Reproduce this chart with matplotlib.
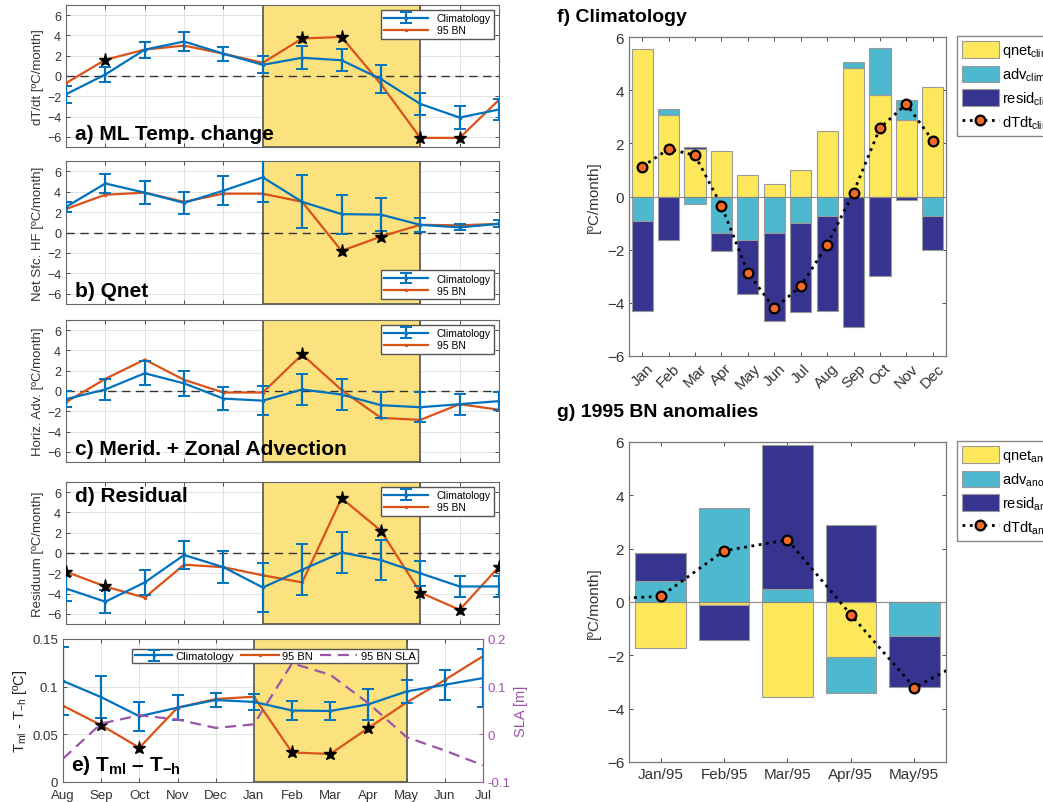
import matplotlib
matplotlib.use("Agg")
import matplotlib.pyplot as plt
import numpy as np

plt.rcParams['font.family'] = ['Liberation Sans', 'DejaVu Sans']
plt.rcParams['mathtext.fontset'] = 'custom'
plt.rcParams['mathtext.rm'] = 'Liberation Sans'
plt.rcParams['mathtext.it'] = 'Liberation Sans:italic'
plt.rcParams['mathtext.bf'] = 'Liberation Sans:bold'

# ---- monthly series, Aug -> Jul ----
months = ['Aug', 'Sep', 'Oct', 'Nov', 'Dec', 'Jan', 'Feb', 'Mar', 'Apr', 'May', 'Jun', 'Jul']

a_clim = [-1.8, 0.15, 2.6, 3.4, 2.2, 1.1, 1.8, 1.55, -0.3, -2.75, -4.1, -3.3]
a_err = [0.85, 0.7, 0.8, 0.9, 0.7, 0.85, 1.15, 1.1, 1.35, 1.1, 1.1, 1.05]
a_bn = [-0.7, 1.6, 2.6, 3.0, 2.2, 1.3, 3.7, 3.85, -0.8, -6.1, -6.1, -2.35]
a_star = [1, 6, 7, 9, 10]

b_clim = [2.5, 4.8, 3.9, 2.9, 4.1, 5.4, 3.0, 1.8, 1.75, 0.75, 0.5, 0.85]
b_err = [0.45, 0.95, 1.15, 1.1, 1.45, 2.4, 2.6, 1.9, 1.6, 0.7, 0.3, 0.35]
b_bn = [2.3, 3.7, 3.9, 3.0, 3.8, 3.8, 3.0, -1.8, -0.4, 0.75, 0.7, 0.85]
b_star = [7, 8]

c_clim = [-0.8, 0.15, 1.75, 0.75, -0.75, -0.95, 0.15, -0.35, -1.4, -1.6, -1.3, -1.0]
c_err = [0.8, 1.0, 1.2, 1.2, 1.1, 1.45, 1.55, 1.5, 1.3, 1.5, 1.05, 0.9]
c_bn = [-1.1, 1.2, 3.1, 1.1, -0.15, -0.15, 3.6, 0.1, -2.65, -2.85, -1.3, -1.85]
c_star = [6]

d_clim = [-3.5, -4.8, -2.9, -0.2, -1.4, -3.4, -1.65, 0.05, -0.7, -2.0, -3.3, -3.3]
d_err = [1.2, 1.15, 1.2, 1.35, 1.6, 2.45, 2.5, 2.05, 2.0, 1.25, 1.0, 1.0]
d_bn = [-1.85, -3.3, -4.4, -1.15, -1.4, -2.2, -2.9, 5.4, 2.2, -3.9, -5.6, -1.35]
d_star = [0, 1, 7, 8, 9, 10, 11]

e_clim = [0.106, 0.089, 0.069, 0.078, 0.086, 0.084, 0.075, 0.0745, 0.0815, 0.095, 0.102, 0.109]
e_err = [0.036, 0.022, 0.015, 0.013, 0.007, 0.0085, 0.0095, 0.009, 0.016, 0.012, 0.0155, 0.03]
e_bn = [0.08, 0.0596, 0.036, 0.078, 0.087, 0.0895, 0.031, 0.0294, 0.0567, 0.0835, 0.107, 0.132]
e_star = [1, 2, 6, 7, 8]
e_sla = [-0.051, 0.0225, 0.040, 0.031, 0.0134, 0.021, 0.149, 0.125, 0.065, -0.006, -0.034, -0.065]

# ---- heat budget bars ----
clim_months = ['Jan', 'Feb', 'Mar', 'Apr', 'May', 'Jun', 'Jul', 'Aug', 'Sep', 'Oct', 'Nov', 'Dec']
clim_qnet = [5.53, 3.07, 1.79, 1.70, 0.80, 0.48, 0.98, 2.48, 4.85, 3.80, 2.88, 4.12]
clim_adv = [-0.93, 0.22, -0.29, -1.38, -1.63, -1.38, -0.98, -0.73, 0.20, 1.77, 0.74, -0.73]
clim_resid = [-3.38, -1.63, 0.07, -0.66, -2.02, -3.32, -3.38, -3.57, -4.90, -2.98, -0.14, -1.29]
clim_dtdt = [1.12, 1.79, 1.55, -0.35, -2.86, -4.21, -3.38, -1.82, 0.15, 2.58, 3.48, 2.10]

anom_months = ['Jan/95', 'Feb/95', 'Mar/95', 'Apr/95', 'May/95']
anom_qnet = [-1.71, -0.13, -3.55, -2.08, 0.0]
anom_adv = [0.80, 3.53, 0.49, -1.32, -1.29]
anom_resid = [1.05, -1.31, 5.41, 2.90, -1.91]
# Dec/94 ... Jun/95
anom_dtdt = [0.10, 0.21, 1.92, 2.33, -0.48, -3.21, -1.95]

BLUE = '#0072BD'
ORANGE = '#D95319'
PURPLE = '#9B55A8'
SHADE = '#FBE27E'
C_QNET = '#FDE85C'
C_ADV = '#4DB8CE'
C_RESID = '#37348F'
SPINE = '#666666'

W, H = 1043, 803
fig = plt.figure(figsize=(W / 100, H / 100), dpi=100)


def px_axes(l, t, r, b):
    return fig.add_axes([l / W, 1 - b / H, (r - l) / W, (b - t) / H])


def style(ax):
    ax.tick_params(direction='in', top=True, right=True, length=3, width=0.6,
                   colors='#333333', labelsize=9)
    for s in ax.spines.values():
        s.set_color(SPINE)
        s.set_linewidth(0.8)


x = np.arange(12)


def line_panel(ax, clim, err, bn, stars, ylabel, label, label_y, label_va, leg_loc):
    ax.axvspan(5, 9, facecolor=SHADE, edgecolor='#555555', lw=1.2, zorder=1)
    ax.axhline(0, color='#333333', lw=1, ls=(0, (6, 4)), zorder=2)
    h1 = ax.errorbar(x, clim, yerr=err, color=BLUE, lw=1.6, capsize=4.5, capthick=1.4,
                     marker='.', ms=3, zorder=4, label='Climatology')
    h2, = ax.plot(x, bn, color=ORANGE, lw=1.6, marker='.', ms=3, zorder=3, label='95 BN')
    ax.plot(np.array(stars), np.array(bn)[stars], ls='none', marker='*', ms=9.5,
            color='black', zorder=5)
    ax.set_xlim(0, 11)
    ax.set_ylim(-7, 7)
    ax.set_yticks([-6, -4, -2, 0, 2, 4, 6])
    ax.set_xticks(x)
    ax.tick_params(labelbottom=False)
    ax.grid(True, color='#E3E3E3', lw=0.7)
    ax.set_axisbelow(True)
    style(ax)
    ax.set_ylabel(ylabel, fontsize=9.5, color='#333333', labelpad=2)
    ax.text(0.02, label_y, label, transform=ax.transAxes, fontsize=15,
            fontweight='bold', va=label_va, ha='left', zorder=6)
    ax.legend(handles=[h1, h2], loc=leg_loc, fontsize=7.5, frameon=True,
              fancybox=False, edgecolor='#555555', framealpha=1,
              handlelength=4.2, borderpad=0.3, labelspacing=0.2)


ax_a = px_axes(66, 6, 499, 148)
line_panel(ax_a, a_clim, a_err, a_bn, a_star, 'dT/dt [ºC/month]',
           'a) ML Temp. change', 0.03, 'bottom', 'upper right')
ax_b = px_axes(66, 162, 499, 305)
line_panel(ax_b, b_clim, b_err, b_bn, b_star, 'Net Sfc. HF [ºC/month]',
           'b) Qnet', 0.03, 'bottom', 'lower right')
ax_c = px_axes(66, 321, 499, 463)
line_panel(ax_c, c_clim, c_err, c_bn, c_star, 'Horiz. Adv. [ºC/month]',
           'c) Merid. + Zonal Advection', 0.03, 'bottom', 'upper right')
ax_d = px_axes(66, 483, 499, 625)
line_panel(ax_d, d_clim, d_err, d_bn, d_star, 'Residuum [ºC/month]',
           'd) Residual', 0.97, 'top', 'upper right')

# ---- e) mixed layer minus sub-layer temperature, with SLA ----
ax_e = px_axes(63, 640, 483, 783)
ax_e.axvspan(5, 9, facecolor=SHADE, edgecolor='#555555', lw=1.2, zorder=1)
he1 = ax_e.errorbar(x, e_clim, yerr=e_err, color=BLUE, lw=1.6, capsize=4.5, capthick=1.4,
                    marker='.', ms=3, zorder=4, label='Climatology')
he2, = ax_e.plot(x, e_bn, color=ORANGE, lw=1.6, marker='.', ms=3, zorder=3, label='95 BN')
ax_e.plot(np.array(e_star), np.array(e_bn)[e_star], ls='none', marker='*', ms=9.5,
          color='black', zorder=5)
ax_e.set_xlim(0, 11)
ax_e.set_ylim(0, 0.15)
ax_e.set_yticks([0, 0.05, 0.1, 0.15])
ax_e.set_yticklabels(['0', '0.05', '0.1', '0.15'])
ax_e.set_xticks(x)
ax_e.set_xticklabels(months)
ax_e.grid(True, color='#E3E3E3', lw=0.7)
ax_e.set_axisbelow(True)
style(ax_e)
ax_e.tick_params(right=False, labelsize=9.5)
ax_e.tick_params(axis='x', pad=5)
ax_e.set_ylabel(r'T$_{\mathrm{ml}}$ - T$_{\mathrm{-h}}$ [ºC]', fontsize=10.5, color='#222222',
                labelpad=2)
ax_e.text(0.02, 0.04, r'e) T$_{\mathbf{ml}}$ – T$_{\mathbf{-h}}$', transform=ax_e.transAxes,
          fontsize=15, fontweight='bold', va='bottom', ha='left', zorder=6)

ax_s = ax_e.twinx()
he3, = ax_s.plot(x, e_sla, color=PURPLE, lw=1.6, ls=(0, (5, 3)), label='95 BN SLA')
ax_s.set_ylim(-0.1, 0.2)
ax_s.set_yticks([-0.1, 0, 0.1, 0.2])
ax_s.set_yticklabels(['-0.1', '0', '0.1', '0.2'])
ax_s.tick_params(direction='in', length=3, width=0.6, colors=PURPLE, labelsize=9.5)
ax_s.spines['right'].set_color(PURPLE)
for side in ['left', 'top', 'bottom']:
    ax_s.spines[side].set_visible(False)
ax_s.set_ylabel('SLA [m]', fontsize=10.5, color=PURPLE, labelpad=2)
ax_s.legend(handles=[he1, he2, he3], loc='upper center', bbox_to_anchor=(0.505, 0.97),
            ncol=3, fontsize=8, frameon=True, fancybox=False, edgecolor='#555555',
            framealpha=1, handlelength=3.4, borderpad=0.2, columnspacing=0.6,
            handletextpad=0.3)


# ---- stacked bar panels ----
def stacked_bars(ax, pos, series, colors):
    pos_base = np.zeros(len(pos))
    neg_base = np.zeros(len(pos))
    handles = []
    for vals, col in zip(series, colors):
        vals = np.asarray(vals, dtype=float)
        base = np.where(vals >= 0, pos_base, neg_base)
        h = ax.bar(pos, vals, 0.8, bottom=base, color=col, edgecolor='#9A9A9A',
                   lw=0.8, zorder=2)
        handles.append(h)
        pos_base = np.where(vals >= 0, pos_base + vals, pos_base)
        neg_base = np.where(vals < 0, neg_base + vals, neg_base)
    ax.axhline(0, color='#888888', lw=0.8, zorder=3)
    return handles


def bar_style(ax):
    ax.set_ylim(-6, 6)
    ax.set_yticks([-6, -4, -2, 0, 2, 4, 6])
    ax.tick_params(direction='in', top=True, right=True, length=3, width=0.6,
                   colors='#333333', labelsize=11)
    for s in ax.spines.values():
        s.set_color('#777777')
        s.set_linewidth(0.9)
    ax.set_ylabel('[ºC/month]', fontsize=11, color='#333333', labelpad=4)


def bar_legend(ax, handles, tag):
    labels = [r'qnet$_{\mathrm{%s}}$' % tag, r'adv$_{\mathrm{%s}}$' % tag,
              r'resid$_{\mathrm{%s}}$' % tag, r'dTdt$_{\mathrm{%s}}$' % tag]
    ax.legend(handles=handles, labels=labels, loc='upper left',
              bbox_to_anchor=(1.035, 1.003), borderaxespad=0, fontsize=10.5,
              frameon=True, fancybox=False, edgecolor='#888888', framealpha=1,
              handlelength=2.5, handleheight=1.4, labelspacing=0.42,
              borderpad=0.35, handletextpad=0.2)


ax_f = px_axes(629, 38, 946, 357)
xf = np.arange(1, 13)
hf = stacked_bars(ax_f, xf, [clim_qnet, clim_adv, clim_resid], [C_QNET, C_ADV, C_RESID])
lf, = ax_f.plot(xf, clim_dtdt, color='black', ls=':', lw=2, marker='o', ms=7,
                mfc='#F26A28', mec='black', mew=1.6, zorder=5)
ax_f.set_xlim(0.5, 12.5)
ax_f.set_xticks(xf)
ax_f.set_xticklabels(clim_months, rotation=45, ha='center')
bar_style(ax_f)
bar_legend(ax_f, hf + [lf], 'clim')
fig.text(557 / W, 1 - 18 / H, 'f) Climatology', fontsize=14, fontweight='bold',
         va='center', ha='left')

ax_g = px_axes(629, 443, 946, 763)
xg = np.arange(1, 6)
hg = stacked_bars(ax_g, xg, [anom_qnet, anom_adv, anom_resid], [C_QNET, C_ADV, C_RESID])
lg, = ax_g.plot(np.arange(0, 7), anom_dtdt, color='black', ls=':', lw=2, marker='o', ms=7,
                mfc='#F26A28', mec='black', mew=1.6, zorder=5)
ax_g.set_xlim(0.5, 5.5)
ax_g.set_xticks(xg)
ax_g.set_xticklabels(anom_months)
bar_style(ax_g)
bar_legend(ax_g, hg + [lg], 'anom')
fig.text(557 / W, 1 - 413 / H, 'g) 1995 BN anomalies', fontsize=14, fontweight='bold',
         va='center', ha='left')

fig.savefig('out.png', dpi=100)
